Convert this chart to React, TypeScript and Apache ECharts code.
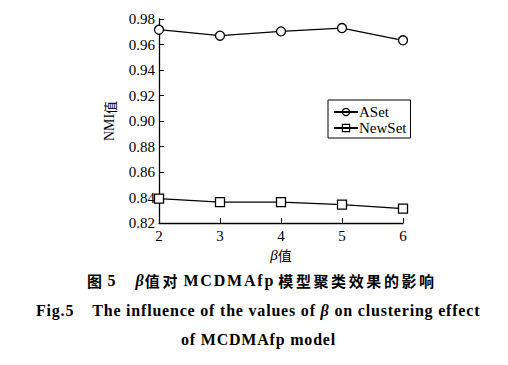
import React, { useEffect, useRef } from "react";
import * as echarts from "echarts";

const betaValues = ["2", "3", "4", "5", "6"];
const asetNMI = [0.9716, 0.9669, 0.9703, 0.9729, 0.9633];
const newsetNMI = [0.8391, 0.8363, 0.8363, 0.8344, 0.8313];
const seriesNames = ["ASet", "NewSet"];

const SERIF = "Liberation Serif";
const CJK = "Noto Sans CJK SC";

// split text into per-character rich tokens so that each character can carry a little spacing
function spaced(s: string, style: string): string {
  return Array.from(s)
    .map((ch) => `{${style}|${ch}}`)
    .join("");
}

export default function App() {
  const ref = useRef<HTMLDivElement>(null);
  useEffect(() => {
    if (!ref.current) return;
    const chart = echarts.init(ref.current, undefined, { renderer: "svg" });
    const lineStyle = { color: "#000", width: 1.3 };
    const capRich = {
      h: { fontFamily: CJK, fontWeight: "bold", fontSize: 15, color: "#000", padding: [0, 2.6, 0, 0] },
      hl: { fontFamily: CJK, fontWeight: "bold", fontSize: 15, color: "#000", padding: [0, 6, 0, 0] },
      n: { fontFamily: SERIF, fontWeight: "bold", fontSize: 16, color: "#000", padding: [0, 0.8, 0, 0] },
      m: { fontFamily: SERIF, fontWeight: "bold", fontSize: 16, color: "#000", padding: [0, 1.8, 0, 0] },
      ml: { fontFamily: SERIF, fontWeight: "bold", fontSize: 16, color: "#000", padding: [0, 5, 0, 0] },
      f5: { fontFamily: SERIF, fontWeight: "bold", fontSize: 16, color: "#000", padding: [0, 20, 0, 3] },
      b: { fontFamily: SERIF, fontWeight: "bold", fontStyle: "italic", fontSize: 16, color: "#000", padding: [0, 1, 0, 0] },
      g2: { fontFamily: SERIF, fontSize: 16, width: 18 },
    };
    chart.setOption({
      animation: false,
      backgroundColor: "#fff",
      grid: { left: 159, top: 19, width: 244, height: 204, containLabel: false },
      xAxis: {
        type: "category",
        data: betaValues,
        boundaryGap: false,
        name: "{b|β}{c|值}",
        nameLocation: "middle",
        nameGap: 21,
        nameTextStyle: {
          color: "#000",
          rich: {
            b: { fontFamily: SERIF, fontStyle: "italic", fontSize: 15, color: "#000" },
            c: { fontFamily: CJK, fontSize: 14, color: "#000" },
          },
        },
        axisLine: { lineStyle: { color: "#000", width: 1.3 } },
        axisTick: { inside: true, length: 5, alignWithLabel: true, lineStyle: { color: "#000" } },
        axisLabel: { color: "#000", fontFamily: SERIF, fontSize: 15, margin: 5 },
        splitLine: { show: false },
      },
      yAxis: {
        type: "value",
        min: 0.82,
        max: 0.98,
        interval: 0.02,
        name: "{a|NMI}{c|值}",
        nameLocation: "middle",
        nameGap: 43,
        nameRotate: 90,
        nameTextStyle: {
          color: "#000",
          rich: {
            a: { fontFamily: SERIF, fontSize: 14, color: "#000" },
            c: { fontFamily: CJK, fontSize: 13, color: "#000" },
          },
        },
        axisLine: { show: true, lineStyle: { color: "#000", width: 1.3 } },
        axisTick: { show: true, inside: true, length: 5, lineStyle: { color: "#000" } },
        axisLabel: {
          color: "#000",
          fontFamily: SERIF,
          fontSize: 15,
          margin: 4,
          formatter: (v: number) => v.toFixed(2),
        },
        splitLine: { show: false },
      },
      legend: {
        left: 328,
        top: 100,
        orient: "vertical",
        data: seriesNames,
        borderColor: "#000",
        borderWidth: 1,
        borderRadius: 0,
        padding: [4, 4, 2, 5],
        itemGap: 0,
        itemWidth: 24,
        itemHeight: 9,
        itemStyle: { color: "rgba(0,0,0,0)", borderColor: "#000", borderWidth: 1.2 },
        textStyle: { fontFamily: SERIF, fontSize: 15, color: "#000", padding: [0, 0, 0, -4], lineHeight: 16 },
      },
      series: [
        {
          name: seriesNames[0],
          type: "line",
          data: asetNMI,
          symbol: "circle",
          symbolSize: 9,
          showAllSymbol: true,
          lineStyle,
          itemStyle: { color: "#fff", borderColor: "#000", borderWidth: 1.3 },
        },
        {
          name: seriesNames[1],
          type: "line",
          data: newsetNMI,
          symbol: "rect",
          symbolSize: 9,
          showAllSymbol: true,
          lineStyle,
          itemStyle: { color: "#fff", borderColor: "#000", borderWidth: 1.3 },
        },
      ],
      graphic: [
        {
          type: "text",
          left: 87,
          top: 272,
          style: {
            text:
              "{h|图}{f5|5}" +
              spaced("β", "b") +
              "{h|值}{hl|对}" +
              spaced("MCDMAf", "m") +
              "{ml|p}" +
              spaced("模型聚类效果的影响", "h"),
            rich: capRich,
          },
        },
        {
          type: "text",
          left: 36,
          top: 302,
          style: {
            text:
              spaced("Fig.5", "n") +
              "{g2| }" +
              spaced("The influence of the values of ", "n") +
              spaced("β", "b") +
              spaced(" on clustering effect", "n"),
            rich: capRich,
          },
        },
        {
          type: "text",
          left: 181,
          top: 331,
          style: {
            text: spaced("of MCDMAfp model", "n"),
            rich: capRich,
          },
        },
      ],
    });
    return () => chart.dispose();
  }, []);
  return (
    <div
      ref={ref}
      style={{ position: "fixed", left: 0, top: 0, width: 508, height: 365, background: "#fff" }}
    />
  );
}
